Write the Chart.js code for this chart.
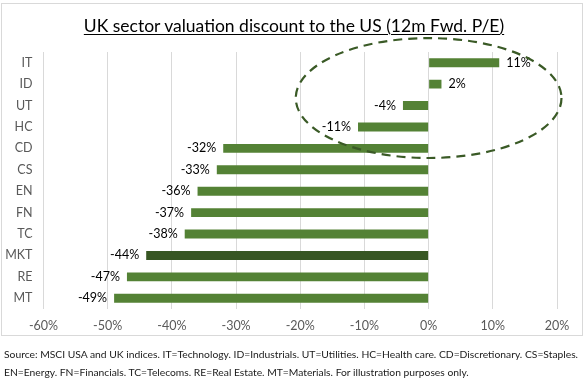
<!DOCTYPE html>
<html>
<head>
<meta charset="utf-8">
<script src="https://cdn.jsdelivr.net/npm/chart.js@4.4.1/dist/chart.umd.min.js"></script>
<style>
  html, body { margin: 0; padding: 0; background: #fff; }
  #wrap { position: relative; width: 588px; height: 381px; overflow: hidden; font-family: Lato, "Liberation Sans", sans-serif; }
  #frame { position: absolute; left: 1px; top: 3px; width: 580px; height: 331px; border: 1px solid #d9d9d9; }
  #title { position: absolute; left: 0; width: 588px; top: 15px; text-align: center; font-size: 17.5px; color: #000; text-decoration: underline; text-underline-offset: 2px; text-decoration-thickness: 1px; }
  #cv { position: absolute; left: 0; top: 0; }
  .src { position: absolute; left: 4px; font-size: 10.3px; color: #1a1a1a; white-space: nowrap; }
</style>
</head>
<body>
<div id="wrap">
  <div id="frame"></div>
  <canvas id="cv" width="588" height="381"></canvas>
  <div id="title">UK sector valuation discount to the US (12m Fwd. P/E)</div>
  <div class="src" id="src1" style="top:348px">Source: MSCI USA and UK indices. IT=Technology. ID=Industrials. UT=Utilities. HC=Health care. CD=Discretionary. CS=Staples.</div>
  <div class="src" id="src2" style="top:366px">EN=Energy. FN=Financials. TC=Telecoms. RE=Real Estate. MT=Materials. For illustration purposes only.</div>
</div>
<script>
// ---- data ----
const categories = ["IT", "ID", "UT", "HC", "CD", "CS", "EN", "FN", "TC", "MKT", "RE", "MT"];
const discounts = [0.11, 0.02, -0.04, -0.11, -0.32, -0.33, -0.36, -0.37, -0.38, -0.44, -0.47, -0.49];
const highlightCategory = "MKT";
const axisMin = -0.6, axisMax = 0.2, axisStep = 0.1;
// ellipse annotation in data units: centre (value, category index), radii (value, categories)
const ellipseCenter = [0.0, 1.65];
const ellipseRadius = [0.207, 2.8];

const barColor = "#548235";
const highlightColor = "#375623";
const pct = v => Math.round(v * 100) + "%";

const labelPlugin = {
  id: "barLabels",
  afterDatasetsDraw(chart) {
    const ctx = chart.ctx;
    const meta = chart.getDatasetMeta(0);
    ctx.save();
    ctx.font = "12.5px Lato, 'Liberation Sans', sans-serif";
    ctx.fillStyle = "#000";
    ctx.textBaseline = "middle";
    meta.data.forEach((el, i) => {
      const v = discounts[i];
      if (v >= 0) { ctx.textAlign = "left"; ctx.fillText(pct(v), el.x + 7, el.y); }
      else { ctx.textAlign = "right"; ctx.fillText(pct(v), el.x - 7, el.y); }
    });
    ctx.restore();
  }
};

const ellipsePlugin = {
  id: "ellipse",
  afterDraw(chart) {
    const xs = chart.scales.x, ys = chart.scales.y;
    const cx = xs.getPixelForValue(ellipseCenter[0]);
    const rx = Math.abs(xs.getPixelForValue(ellipseCenter[0] + ellipseRadius[0]) - cx);
    const step = ys.getPixelForValue(1) - ys.getPixelForValue(0);
    const cy = ys.getPixelForValue(0) + step * ellipseCenter[1];
    const ry = Math.abs(step * ellipseRadius[1]);
    const ctx = chart.ctx;
    ctx.save();
    ctx.strokeStyle = "#3a5a26";
    ctx.lineWidth = 2.2;
    ctx.setLineDash([9, 6]);
    ctx.beginPath();
    ctx.ellipse(cx, cy, rx, ry, 0, 0, Math.PI * 2);
    ctx.stroke();
    ctx.restore();
  }
};

new Chart(document.getElementById("cv"), {
  type: "bar",
  data: {
    labels: categories,
    datasets: [{
      data: discounts,
      backgroundColor: categories.map(c => c === highlightCategory ? highlightColor : barColor),
      categoryPercentage: 1.0,
      barPercentage: 0.42,
      borderWidth: 0
    }]
  },
  options: {
    indexAxis: "y",
    responsive: false,
    animation: false,
    devicePixelRatio: 1,
    layout: { padding: { left: 0, right: 31, top: 52, bottom: 46 } },
    plugins: { legend: { display: false }, tooltip: { enabled: false }, title: { display: false } },
    scales: {
      x: {
        min: axisMin, max: axisMax,
        ticks: { stepSize: axisStep, callback: v => pct(v), color: "#595959", font: { family: "Lato, 'Liberation Sans', sans-serif", size: 12.5 }, padding: 9 },
        grid: { color: "#d9d9d9", drawTicks: false, lineWidth: 1 },
        border: { display: false },
        afterFit(s) { s.height = 26; }
      },
      y: {
        ticks: { color: "#595959", font: { family: "Lato, 'Liberation Sans', sans-serif", size: 12.5 }, padding: 11 },
        grid: { display: false, drawTicks: false },
        border: { display: false },
        afterFit(s) { s.width = 43.5; }
      }
    }
  },
  plugins: [labelPlugin, ellipsePlugin]
});
</script>
</body>
</html>
